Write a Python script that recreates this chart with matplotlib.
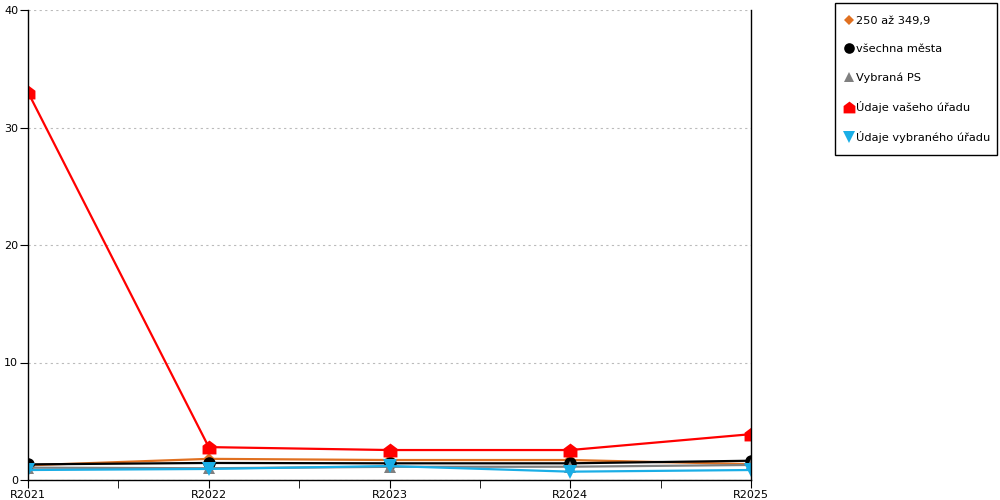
import matplotlib
matplotlib.use("Agg")
import matplotlib.pyplot as plt
from matplotlib.path import Path
from matplotlib.lines import Line2D
from matplotlib.patches import Rectangle

categories = ["R2021", "R2022", "R2023", "R2024", "R2025"]
s_250 = [1.25, 1.8, 1.7, 1.7, 1.35]
s_all = [1.33, 1.45, 1.42, 1.42, 1.64]
s_ps = [1.05, 1.0, 1.12, 1.13, 1.28]
s_vas = [33.0, 2.8, 2.55, 2.55, 3.9]
s_vyb = [0.85, 0.94, 1.19, 0.71, 0.85]

labels = ["250 až 349,9", "všechna města", "Vybraná PS", "Údaje vašeho úřadu", "Údaje vybraného úřadu"]
colors = ["#E07020", "#000000", "#808080", "#FF0000", "#1AAEE6"]

house = Path([(-1, -1), (1, -1), (1, 0.25), (0, 1), (-1, 0.25), (-1, -1)],
             [Path.MOVETO, Path.LINETO, Path.LINETO, Path.LINETO, Path.LINETO, Path.CLOSEPOLY])
markers = ["D", "o", "^", house, "v"]
msizes = [6, 9, 9, 10, 10]

plt.rcParams['font.family'] = ['DejaVu Sans']
fig = plt.figure(figsize=(10, 5), dpi=100)
ax = fig.add_axes([0.028, 0.04, 0.723, 0.94])

x = list(range(len(categories)))
series = [s_250, s_all, s_ps, s_vas, s_vyb]
for s, c, m, ms in zip(series, colors, markers, msizes):
    ax.plot(x, s, color=c, lw=1.6, marker=m, markersize=ms, markeredgewidth=0)

ax.set_xlim(0, 4)
ax.set_ylim(0, 40)
ax.set_yticks([0, 10, 20, 30, 40])
ax.set_xticks(x)
ax.set_xticklabels(categories)
ax.set_xticks([0.5, 1.5, 2.5, 3.5], minor=True)
ax.tick_params(axis='x', which='both', length=6, direction='out', labelsize=8, pad=1)
ax.tick_params(axis='y', length=6, direction='out', labelsize=8, pad=1)
ax.yaxis.grid(True, linestyle=(0, (2, 3)), color='#BBBBBB', lw=0.8)
ax.set_axisbelow(True)
ax.spines['top'].set_visible(False)
for sp in ['left', 'right', 'bottom']:
    ax.spines[sp].set_color('black')
    ax.spines[sp].set_linewidth(1)

handles = [Line2D([], [], color=c, marker=m, linestyle='none', markersize=ms * 0.85, markeredgewidth=0)
           for c, m, ms in zip(colors, markers, msizes)]
leg = fig.legend(handles, labels, loc='upper left', bbox_to_anchor=(0.835, 0.988),
                 fontsize=8.2, frameon=False,
                 labelspacing=1.58, handlelength=0.6, handletextpad=0.35, borderpad=0.9,
                 borderaxespad=0)
fig.patches.append(Rectangle((0.8345, 0.69), 0.1625, 0.304, transform=fig.transFigure,
                             fill=False, edgecolor='black', lw=1))

fig.savefig("out.png", dpi=100)
